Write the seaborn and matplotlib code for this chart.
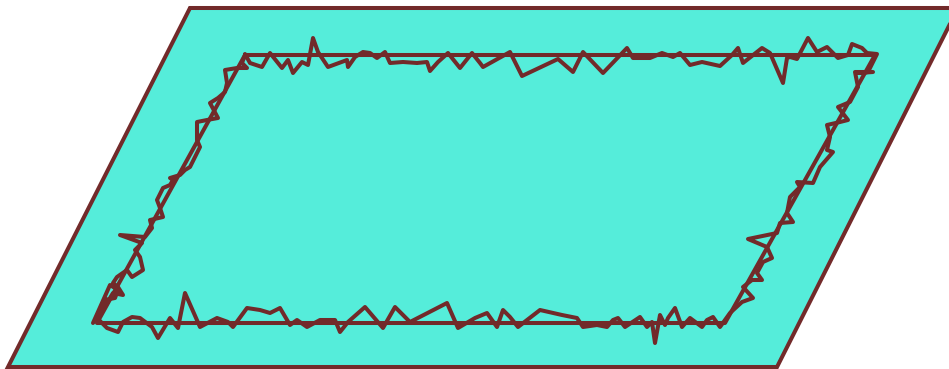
import numpy as np
import pandas as pd
import matplotlib
matplotlib.use("Agg")
import matplotlib.pyplot as plt
import seaborn as sns

# Outer parallelogram corners (pixel space, y down)
outer_x = [190, 958, 777, 8]
outer_y = [8, 8, 367, 367]

# Inner straight parallelogram
inner_x = [245, 875, 725, 97]
inner_y = [55, 55, 323, 323]

# Hand-drawn jagged outline
top_x = [245, 250, 262, 270, 282, 288, 293, 302, 308, 313, 318, 328, 347, 348,
         355, 363, 370, 377, 385, 390, 403, 417, 427, 430, 438, 448, 460, 472,
         480, 483, 510, 522, 558, 573, 583, 603, 627, 633, 650, 662, 673, 680,
         690, 702, 720, 732, 738, 743, 762, 770, 783, 787, 790, 797, 808, 817,
         827, 838, 848, 852, 862, 867, 877, 868, 858]
top_y = [54, 63, 67, 53, 68, 60, 73, 62, 65, 38, 52, 67, 60, 67,
         57, 52, 53, 58, 52, 63, 62, 63, 62, 71, 62, 53, 68, 53,
         63, 67, 52, 76, 59, 72, 52, 73, 48, 58, 58, 53, 57, 53,
         65, 62, 66, 55, 48, 63, 48, 53, 83, 58, 57, 59, 38, 52,
         47, 58, 55, 44, 48, 53, 54, 72, 73]

right_x = [873, 855, 858, 850, 838, 848, 840, 827, 830, 827, 833, 820, 813,
           797, 800, 790, 787, 793, 780, 777, 748, 767, 772, 763, 757, 762,
           752, 743, 753, 742, 730, 720]
right_y = [72, 72, 87, 102, 107, 120, 122, 125, 137, 150, 152, 167, 183,
           182, 187, 197, 213, 222, 223, 233, 239, 247, 258, 262, 273, 280,
           280, 287, 298, 302, 313, 327]

bottom_x = [713, 707, 702, 690, 682, 675, 668, 665, 660, 655, 652, 647, 640,
            625, 618, 613, 607, 597, 583, 577, 562, 540, 518, 510, 503, 497,
            487, 475, 458, 447, 410, 395, 383, 365, 348, 340, 335, 320, 307,
            297, 290, 280, 270, 260, 247, 233, 228, 217, 200, 185, 178, 170,
            158, 152, 140, 132, 123, 118, 107, 97, 105, 115, 118, 110]
bottom_y = [317, 320, 327, 318, 327, 308, 318, 325, 315, 343, 322, 327, 317,
            327, 318, 320, 327, 325, 327, 318, 315, 310, 327, 317, 310, 327,
            313, 318, 328, 303, 322, 307, 328, 307, 322, 332, 320, 320, 327,
            320, 325, 308, 313, 310, 308, 327, 322, 318, 327, 293, 328, 318,
            338, 327, 318, 317, 322, 332, 328, 318, 300, 298, 290, 285]

left_x = [93, 107, 113, 123, 118, 113, 117, 127, 132, 143, 140, 135, 142, 120,
          145, 152, 150, 163, 160, 157, 163, 170, 173, 170, 180, 185, 190, 200,
          197, 197, 207, 218, 210, 218, 225, 227, 225, 237, 247, 242, 245]
left_y = [323, 303, 293, 295, 287, 283, 277, 270, 277, 270, 257, 250, 243, 235,
          237, 228, 220, 217, 208, 200, 188, 185, 180, 178, 175, 170, 167, 147,
          140, 122, 120, 118, 103, 98, 92, 83, 70, 68, 68, 63, 55]

fill_color = "#55EDDA"
line_color = "#722A2A"

sns.set_theme(style="white")
fig = plt.figure(figsize=(9.49, 3.69), dpi=100)
ax = fig.add_axes([0, 0, 1, 1])

ax.fill(outer_x, outer_y, color=fill_color, zorder=1)
ax.plot(outer_x + outer_x[:1], outer_y + outer_y[:1],
        color=line_color, lw=2.9, solid_joinstyle="miter", zorder=2)

ax.plot(inner_x + inner_x[:1], inner_y + inner_y[:1],
        color=line_color, lw=2.9, zorder=3)

rough = pd.DataFrame({
    "x": top_x + right_x + bottom_x + left_x,
    "y": top_y + right_y + bottom_y + left_y,
})
sns.lineplot(data=rough, x="x", y="y", sort=False, estimator=None,
             color=line_color, lw=2.9, ax=ax, zorder=4)

ax.set_xlim(0, 949)
ax.set_ylim(369, 0)
ax.axis("off")

fig.savefig("out.png", dpi=100, facecolor="white")
